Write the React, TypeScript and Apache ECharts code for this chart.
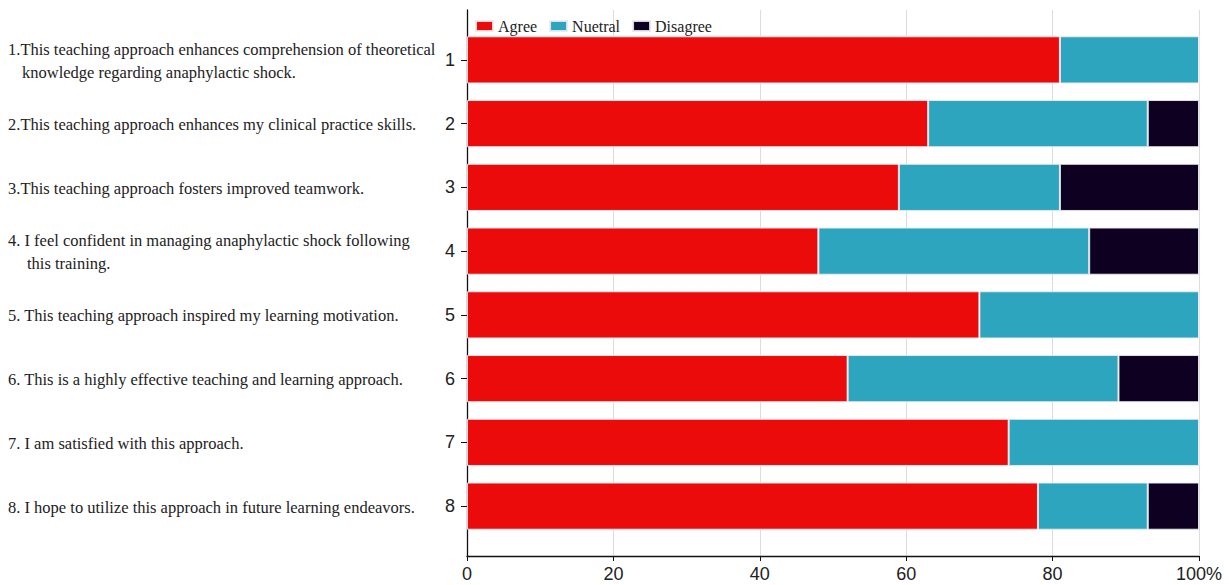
import React, { useEffect, useRef } from "react";
import * as echarts from "echarts";

// Survey items (1–8) and their full statements, one entry per line of text
const itemIds = ["1", "2", "3", "4", "5", "6", "7", "8"];
const statements: string[][] = [
  ["1.This teaching approach enhances comprehension of theoretical", "knowledge regarding anaphylactic shock."],
  ["2.This teaching approach enhances my clinical practice skills."],
  ["3.This teaching approach fosters improved teamwork."],
  ["4. I feel confident in managing anaphylactic shock following", "this training."],
  ["5. This teaching approach inspired my learning motivation."],
  ["6. This is a highly effective teaching and learning approach."],
  ["7. I am satisfied with this approach."],
  ["8. I hope to utilize this approach in future learning endeavors."],
];

// Percentage of responses per item
const agree = [81, 63, 59, 48, 70, 52, 74, 78];
const neutral = [19, 30, 22, 37, 30, 37, 26, 15];
const disagree = [0, 7, 19, 15, 0, 11, 0, 7];

const seriesNames = ["Agree", "Nuetral", "Disagree"];
const seriesColors = ["#EC0B0B", "#2DA5BE", "#0E0021"];
const xTicks = [0, 20, 40, 60, 80, 100];

const SERIF = "'Liberation Serif', 'Times New Roman', serif";
const SANS = "'Liberation Sans', Arial, sans-serif";
const STATEMENT_SIZE = 16.5;

// Width of the item number prefix ("1." or "4. "), so wrapped lines line up after it
function prefixWidth(line: string): number {
  const m = line.match(/^\d+\.\s*/);
  if (!m) return 0;
  const ctx = document.createElement("canvas").getContext("2d");
  if (!ctx) return 15;
  ctx.font = `${STATEMENT_SIZE}px ${SERIF}`;
  return ctx.measureText(m[0]).width;
}

export default function App() {
  const ref = useRef<HTMLDivElement>(null);

  useEffect(() => {
    if (!ref.current) return;
    const chart = echarts.init(ref.current, null, { renderer: "svg" });

    const barSeries = [agree, neutral, disagree].map((vals, i) => ({
      name: seriesNames[i],
      type: "bar" as const,
      stack: "total",
      xAxisIndex: 0,
      yAxisIndex: 0,
      barCategoryGap: "26%",
      itemStyle: {
        color: seriesColors[i],
        borderColor: "rgba(235,235,240,0.9)",
        borderWidth: 1,
      },
      data: vals,
    }));

    const rich: Record<string, any> = {
      a: { fontFamily: SERIF, fontSize: STATEMENT_SIZE, lineHeight: 23, color: "#222" },
    };
    statements.forEach((lines, i) => {
      rich[`b${i}`] = {
        fontFamily: SERIF,
        fontSize: STATEMENT_SIZE,
        lineHeight: 23,
        color: "#222",
        padding: [0, 0, 0, Math.round(prefixWidth(lines[0]) + 2)],
      };
    });

    chart.setOption({
      animation: false,
      backgroundColor: "#ffffff",
      legend: {
        left: 470,
        top: 13,
        itemWidth: 17,
        itemHeight: 10,
        itemGap: 12,
        icon: "rect",
        textStyle: { fontFamily: SERIF, fontSize: 16, color: "#222" },
        data: seriesNames,
      },
      grid: [
        // bars
        { left: 467, right: 30, top: 28, bottom: 47, containLabel: false, outerBoundsMode: "none" },
        // frame: axes and grid lines
        { left: 467, right: 30, top: 10, bottom: 29, containLabel: false, outerBoundsMode: "none" },
      ],
      xAxis: [
        {
          gridIndex: 0,
          type: "value",
          min: 0,
          max: 100,
          show: false,
        },
        {
          gridIndex: 1,
          type: "value",
          min: 0,
          max: 100,
          interval: 20,
          axisLine: { show: true, lineStyle: { color: "#111", width: 1.3 } },
          axisTick: { show: true, length: 5, lineStyle: { color: "#111" } },
          axisLabel: {
            margin: 9,
            fontFamily: SANS,
            fontSize: 18,
            color: "#222",
            formatter: (v: number) => (v === xTicks[xTicks.length - 1] ? `${v}%` : `${v}`),
          },
          splitLine: { show: true, lineStyle: { color: "#dcdcdc", width: 1 } },
        },
      ],
      yAxis: [
        {
          gridIndex: 0,
          type: "category",
          position: "left",
          inverse: true,
          data: itemIds,
          axisLine: { show: false },
          axisTick: { show: true, alignWithLabel: true, length: 6, lineStyle: { color: "#111" } },
          axisLabel: { margin: 12, fontFamily: SANS, fontSize: 18, color: "#222" },
          splitLine: { show: false },
        },
        {
          gridIndex: 0,
          type: "category",
          position: "left",
          offset: 0,
          inverse: true,
          data: itemIds,
          axisLine: { show: false },
          axisTick: { show: false },
          splitLine: { show: false },
          axisLabel: {
            interval: 0,
            margin: 459,
            align: "left",
            padding: [2, 0, 0, 0],
            fontFamily: SERIF,
            fontSize: STATEMENT_SIZE,
            lineHeight: 23,
            color: "#222",
            formatter: (_v: string, idx: number) => {
              const lines = statements[idx];
              return lines
                .map((line, k) => (k === 0 ? `{a|${line}}` : `{b${idx}|${line}}`))
                .join("\n");
            },
            rich,
          },
        },
        {
          gridIndex: 1,
          type: "value",
          min: 0,
          max: 1,
          axisLine: { show: true, lineStyle: { color: "#111", width: 1.3 } },
          axisTick: { show: false },
          axisLabel: { show: false },
          splitLine: { show: false },
        },
      ],
      series: barSeries,
    });

    return () => chart.dispose();
  }, []);

  return (
    <div
      ref={ref}
      style={{ position: "fixed", left: 0, top: 0, width: 1229, height: 585 }}
    />
  );
}
